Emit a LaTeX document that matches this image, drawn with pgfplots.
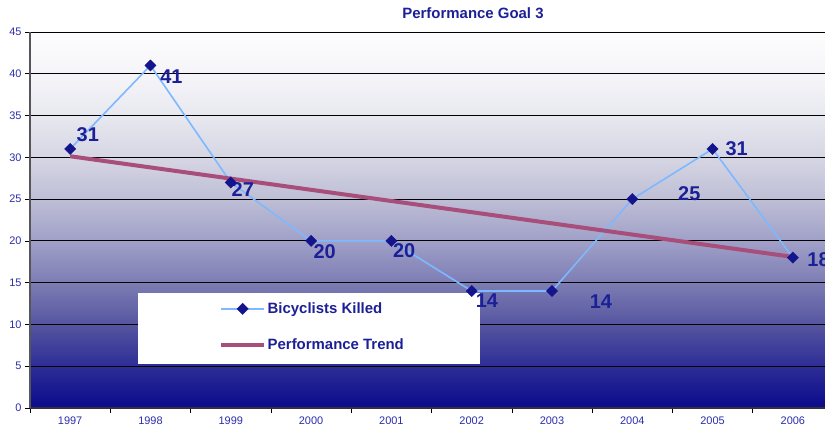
\documentclass[border=0pt]{standalone}
\usepackage{pgfplots}
\pgfplotsset{compat=1.18}
\usepackage{fontspec}
\setmainfont{Liberation Sans}
\definecolor{navylab}{RGB}{28,32,150}
\definecolor{ticklab}{RGB}{45,45,170}
\definecolor{serline}{RGB}{125,185,255}
\definecolor{markc}{RGB}{20,20,140}
\definecolor{trend}{RGB}{168,78,122}
\definecolor{cA}{RGB}{10,10,140}
\definecolor{cB}{RGB}{45,45,150}
\definecolor{cC}{RGB}{85,85,160}
\definecolor{cD}{RGB}{125,125,180}
\definecolor{cE}{RGB}{160,160,200}
\definecolor{cF}{RGB}{190,190,214}
\definecolor{cG}{RGB}{214,214,228}
\definecolor{cH}{RGB}{232,232,240}
\definecolor{cI}{RGB}{245,245,249}
\definecolor{cJ}{RGB}{253,253,254}
\pgfdeclareverticalshading{bg}{100bp}{color(0bp)=(cA); color(25bp)=(cA); color(30.56bp)=(cB); color(36.11bp)=(cC); color(41.67bp)=(cD); color(47.22bp)=(cE); color(52.78bp)=(cF); color(58.33bp)=(cG); color(63.89bp)=(cH); color(69.44bp)=(cI); color(75bp)=(cJ); color(100bp)=(cJ)}
\begin{document}
\begin{tikzpicture}
\useasboundingbox (-30bp,-25bp) rectangle (795bp,408bp);
\begin{axis}[
  at={(0,0)}, anchor=south west,
  scale only axis, width=795bp, height=376bp,
  xmin=-0.5, xmax=9.4, ymin=0, ymax=45,
  axis background/.style={shading=bg},
  xtick={0,...,9},
  xticklabels={1997,1998,1999,2000,2001,2002,2003,2004,2005,2006},
  minor xtick={-0.5,0.5,...,8.5},
  ytick={0,5,...,45},
  ymajorgrids, grid style={black, line width=0.8bp},
  axis x line*=bottom, axis y line*=left,
  x axis line style={-, draw={rgb,255:red,50;green,50;blue,60}, line width=1.6bp},
  y axis line style={-, draw={rgb,255:red,85;green,85;blue,90}, line width=1.6bp},
  tick align=outside,
  major tick length=5bp, minor tick length=5bp,
  major x tick style={draw=none},
  minor x tick style={black, line width=0.6bp},
  major y tick style={black, line width=0.6bp},
  tick label style={font=\fontsize{11}{11}\selectfont, text=ticklab},
  /pgf/number format/assume math mode=true,
  legend style={draw=none, fill=none, at={(0.2377,0.2155)}, anchor=west,
    inner sep=0pt, row sep=24bp, font=\fontsize{15}{15}\selectfont\bfseries,
    text=navylab, nodes={inner xsep=1.5bp, inner ysep=0pt}},
  legend cell align=left,
  legend image code/.code={\draw[mark repeat=2,mark phase=2,#1] plot coordinates {(0bp,0bp) (21.5bp,0bp) (43bp,0bp)};},
  clip=false,
]
\fill[white] (axis cs:0.847,5.23) rectangle (axis cs:5.106,13.73);
\addplot[color=serline, line width=1.6bp, mark=square*, mark size=4bp,
  mark options={rotate=45, fill=markc, draw=markc, line width=0.3bp}]
  coordinates {(0,31) (1,41) (2,27) (3,20) (4,20) (5,14) (6,14) (7,25) (8,31) (9,18)};
\addlegendentry{Bicyclists Killed}
\addplot[color=trend, line width=4bp, no marks]
  coordinates {(0,30.13) (9,18.08)};
\addlegendentry{Performance Trend}
\begin{scope}[every node/.style={font=\fontsize{20}{20}\selectfont\bfseries, text=navylab}]
\node at (axis cs:0.22,32.7) {31};
\node at (axis cs:1.26,39.6) {41};
\node at (axis cs:2.15,26.1) {27};
\node at (axis cs:3.17,18.7) {20};
\node at (axis cs:4.16,18.8) {20};
\node at (axis cs:5.19,12.9) {14};
\node at (axis cs:6.61,12.7) {14};
\node at (axis cs:7.71,25.7) {25};
\node at (axis cs:8.30,31.0) {31};
\node at (axis cs:9.32,17.8) {18};
\end{scope}
\node[font=\fontsize{15}{15}\selectfont\bfseries, text=navylab] at (443bp,395bp) {Performance Goal 3};
\end{axis}
\end{tikzpicture}
\end{document}
